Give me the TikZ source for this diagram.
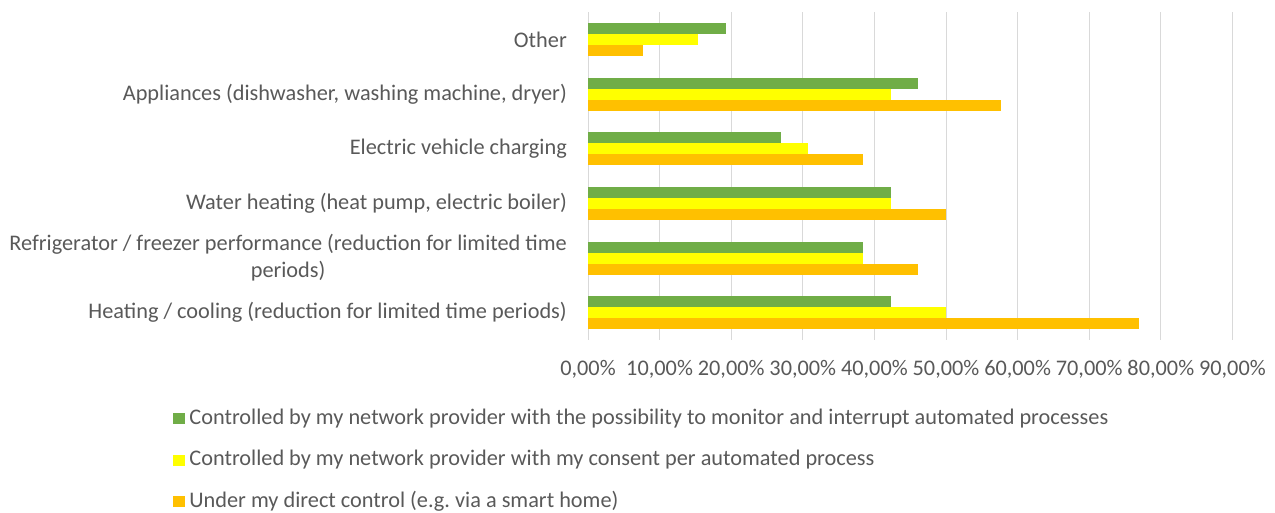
\documentclass[tikz,border=0pt]{standalone}
\usepackage{fontspec}
\setmainfont{Carlito}
\frenchspacing
\usetikzlibrary{positioning}
\definecolor{ctrlgreen}{HTML}{70AD47}
\definecolor{consentyellow}{HTML}{FFFF00}
\definecolor{directorange}{HTML}{FFC000}
\definecolor{gridgrey}{HTML}{D9D9D9}
\definecolor{labelgrey}{HTML}{595959}
\tikzset{
  catlab/.style={anchor=east,align=center,inner sep=0pt,text=labelgrey},
  ticklab/.style={anchor=center,inner sep=0pt,text=labelgrey},
  legkey/.style={inner sep=0pt,minimum width=12pt,minimum height=11pt},
  legtext/.style={anchor=west,inner sep=0pt,text=labelgrey},
}
\newcommand{\catbar}[4]{\fill[#1] (588,#2) rectangle ({588+7.16*#4},#3);}

\begin{document}
\begin{tikzpicture}[x=1pt,y=-1pt,font=\fontsize{22.3}{27}\selectfont]
\useasboundingbox (0,0) rectangle (1275,512);
% grid and axis labels
\foreach \v/\t in {0/0,1/10,2/20,3/30,4/40,5/50,6/60,7/70,8/80,9/90} {
  \draw[gridgrey,line width=1pt] ({588+71.6*\v},12) -- ({588+71.6*\v},340);
  \node[ticklab] (tick\v) at ({588+71.6*\v},369) {\t,00\%};
}
% bars: controlled / consent / direct
\foreach \c/\g/\y/\o in {0/19.23/15.38/7.69,1/46.15/42.31/57.69,
    2/26.92/30.77/38.46,3/42.31/42.31/50.00,4/38.46/38.46/46.15,
    5/42.31/50.00/76.92} {
  \pgfmathsetmacro\cy{39.6+54.6*\c}
  \catbar{ctrlgreen}{\cy-16.5}{\cy-5.5}{\g}
  \catbar{consentyellow}{\cy-5.5}{\cy+5.5}{\y}
  \catbar{directorange}{\cy+5.5}{\cy+16.5}{\o}
}
% categories
\node[catlab] (other) at (567,39.6) {Other};
\node[catlab] (appl) at (567,94.2) {Appliances (dishwasher, washing machine, dryer)};
\node[catlab] (ev) at (567,148.8) {Electric vehicle charging};
\node[catlab] (water) at (567,203.4) {Water heating (heat pump, electric boiler)};
\node[catlab] (fridge) at (567,258) {Refrigerator / freezer performance (reduction for limited time\\periods)};
\node[catlab] (heat) at (567,312.6) {Heating / cooling (reduction for limited time periods)};
% legend
\node[legkey,fill=ctrlgreen] (keyctrl) at (179,418.5) {};
\node[legkey,fill=consentyellow] (keycons) at (179,460) {};
\node[legkey,fill=directorange] (keydir) at (179,501.5) {};
\node[legtext,right=4pt of keyctrl] (legctrl) {Controlled by my network provider with the possibility to monitor and interrupt automated processes};
\node[legtext,right=4pt of keycons] (legcons) {Controlled by my network provider with my consent per automated process};
\node[legtext,right=4pt of keydir] (legdir) {Under my direct control (e.g. via a smart home)};
\end{tikzpicture}
\end{document}
